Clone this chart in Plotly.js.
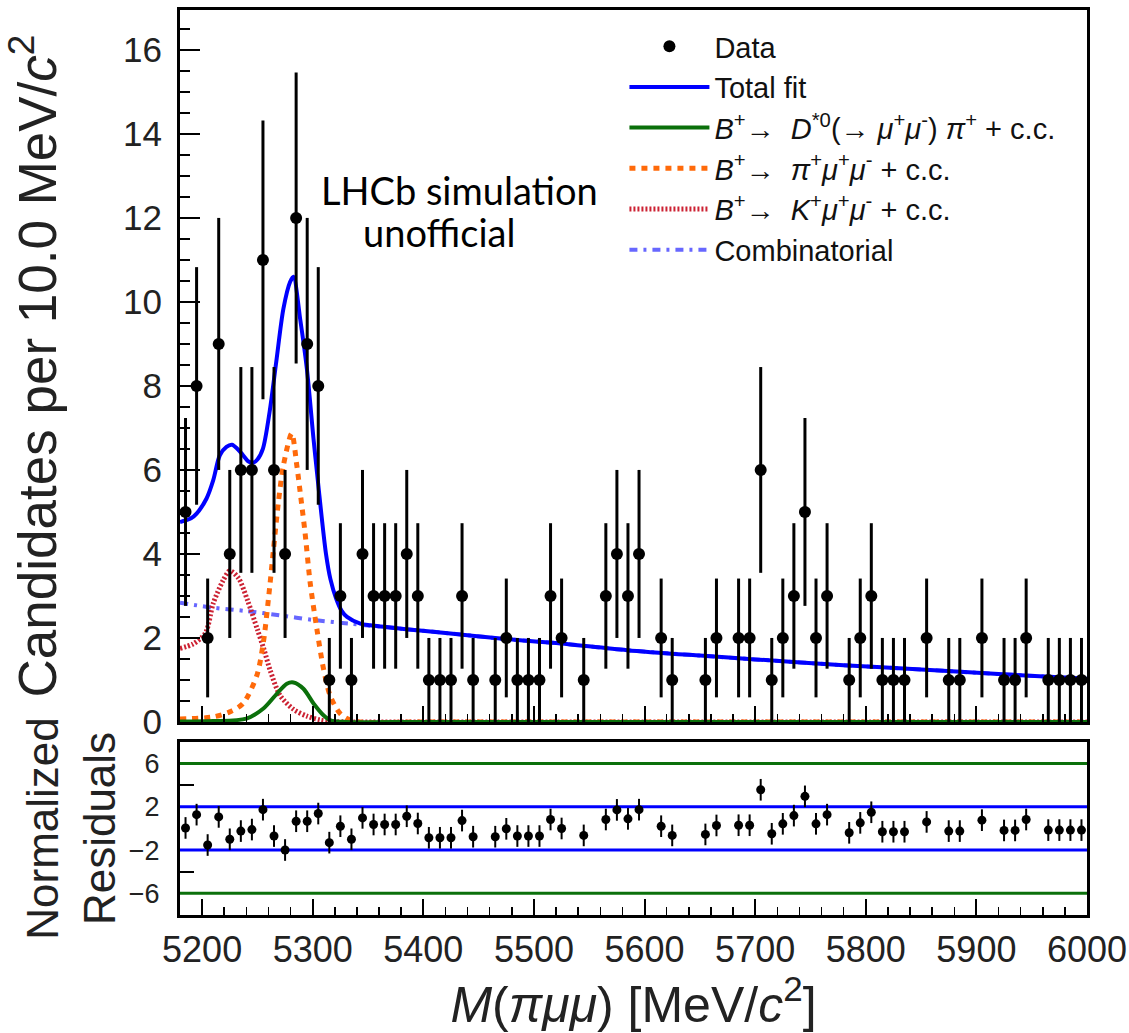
<!DOCTYPE html>
<html>
<head>
<meta charset="utf-8">
<script src="https://cdn.plot.ly/plotly-3.0.1.min.js"></script>
<style>html,body{margin:0;padding:0;background:#fff;}#chart{width:1129px;height:1033px;}</style>
</head>
<body>
<div id="chart"></div>
<script>
// ---- Data ----
const binCenters = [5185,5195,5205,5215,5225,5235,5245,5255,5265,5275,5285,5295,5305,5315,5325,5335,5345,5355,5365,5375,5385,5395,5405,5415,5425,5435,5445,5465,5475,5485,5495,5505,5515,5525,5545,5565,5575,5585,5595,5615,5625,5655,5665,5685,5695,5705,5715,5725,5735,5745,5755,5765,5785,5795,5805,5815,5825,5835,5855,5875,5885,5905,5925,5935,5945,5965,5975,5985,5995];
const counts     = [5,8,2,9,4,6,6,11,6,4,12,9,8,1,3,1,4,3,3,3,4,3,1,1,1,3,1,1,2,1,1,1,3,2,1,3,4,3,4,2,1,1,2,2,2,6,1,2,3,5,2,3,1,2,3,1,1,1,2,1,1,2,1,1,2,1,1,1,1];
const residuals  = [0.05,1.28,-1.53,1.07,-1.0,-0.24,-0.1,1.74,-0.7,-1.99,0.67,0.67,1.38,-1.31,0.21,-1.0,0.98,0.37,0.37,0.37,1.13,0.46,-0.86,-0.86,-0.86,0.73,-0.76,-0.76,-0.03,-0.7,-0.7,-0.7,0.83,0.0,-0.64,0.83,1.72,0.89,1.74,0.21,-0.64,-0.55,0.28,0.3,0.3,3.58,-0.49,0.43,1.19,2.97,0.43,1.28,-0.4,0.52,1.5,-0.3,-0.3,-0.3,0.61,-0.24,-0.24,0.77,-0.18,-0.18,0.83,-0.15,-0.15,-0.15,-0.15];

const totalX = [5180,5190,5195,5204,5210,5216,5222,5227,5232,5237,5242,5246,5250,5255,5261,5267,5273.5,5279.6,5282.6,5288.6,5294.7,5300.7,5304,5308,5312,5316,5321,5326,5331,5343,5352,5380,5420,5472,5520,5584,5650,5700,5780,5850,5920,6000];
const totalY = [4.76,4.85,4.96,5.32,5.75,6.35,6.55,6.6,6.5,6.35,6.2,6.17,6.25,6.51,7.38,8.57,9.84,10.48,10.6,9.6,8.41,6.74,5.9,4.9,4.0,3.4,2.95,2.65,2.5,2.34,2.3,2.22,2.12,1.98,1.88,1.71,1.58,1.49,1.35,1.25,1.14,1.03];

const dstarX = [5180,5210,5240,5255.4,5267.5,5276.6,5282.6,5291.6,5300.7,5309.7,5316,5330,5400,5600,5800,6000];
const dstarY = [0.01,0.02,0.08,0.32,0.67,0.91,0.94,0.79,0.44,0.16,0.04,0.0,0.0,0.0,0.0,0.0];

const pimumuX = [5180,5210,5225,5237,5249.5,5255.4,5260,5264.6,5269,5273.5,5281,5285.6,5288.6,5293,5297.6,5303.7,5309.7,5315.7,5324.8,5337,5400,5600,5800,6000];
const pimumuY = [0.07,0.12,0.24,0.44,1.11,1.9,2.94,4.13,5.24,6.11,6.87,6.11,5.48,4.52,3.33,2.22,1.27,0.63,0.2,0.02,0.0,0.0,0.0,0.0];

const kmumuX = [5180,5192,5203,5210,5219,5225,5233,5241,5250,5256,5261.5,5270.5,5282.6,5294.7,5306.7,5320,5400,5600,5800,6000];
const kmumuY = [1.75,1.86,2.12,2.82,3.37,3.6,3.42,2.9,2.2,1.72,1.23,0.63,0.3,0.14,0.05,0.01,0.0,0.0,0.0,0.0];

const combX = [5180,5210,5240,5270,5300,5334,5380,5420,5472,5520,5584,5650,5700,5780,5850,5920,6000];
const combY = [2.84,2.72,2.64,2.54,2.43,2.34,2.22,2.12,1.98,1.88,1.71,1.58,1.49,1.35,1.25,1.14,1.03];

const residualBlueLevels = [2, -2];
const residualGreenLevels = [6, -6];
const xRange = [5180, 6000];
const xTicks = [5200,5300,5400,5500,5600,5700,5800,5900,6000];

const labels = {
  data: 'Data',
  total: 'Total fit',
  dstar: '<i>B</i><sup>+</sup>\u2192  <i>D</i><sup>*0</sup>(\u2192 <i>\u03bc</i><sup>+</sup><i>\u03bc</i><sup>-</sup>) <i>\u03c0</i><sup>+</sup> + c.c.',
  pimumu: '<i>B</i><sup>+</sup>\u2192  <i>\u03c0</i><sup>+</sup><i>\u03bc</i><sup>+</sup><i>\u03bc</i><sup>-</sup> + c.c.',
  kmumu: '<i>B</i><sup>+</sup>\u2192  <i>K</i><sup>+</sup><i>\u03bc</i><sup>+</sup><i>\u03bc</i><sup>-</sup> + c.c.',
  comb: 'Combinatorial'
};

const FONT = 'Liberation Sans, Arial, Helvetica, sans-serif';
const errs = counts.map(Math.sqrt);

const traces = [];
traces.push({x: combX, y: combY, xaxis:'x', yaxis:'y', mode:'lines', name: labels.comb, legendrank: 6,
  line:{color:'#6767ff', width:4, dash:'8px,6px,3px,6px', shape:'spline', smoothing:0.8}});
traces.push({x: kmumuX, y: kmumuY, xaxis:'x', yaxis:'y', mode:'lines', name: labels.kmumu, legendrank: 5,
  line:{color:'#cc2233', width:5, dash:'2px,2px', shape:'spline', smoothing:0.8}});
traces.push({x: pimumuX, y: pimumuY, xaxis:'x', yaxis:'y', mode:'lines', name: labels.pimumu, legendrank: 4,
  line:{color:'#ff6a0a', width:5, dash:'6px,6px', shape:'spline', smoothing:0.8}});
traces.push({x: dstarX, y: dstarY, xaxis:'x', yaxis:'y', mode:'lines', name: labels.dstar, legendrank: 3,
  line:{color:'#0b700b', width:4, shape:'spline', smoothing:0.8}});
traces.push({x: totalX, y: totalY, xaxis:'x', yaxis:'y', mode:'lines', name: labels.total, legendrank: 2,
  line:{color:'#0000ff', width:4, shape:'spline', smoothing:0.8}});
traces.push({x: binCenters, y: counts, xaxis:'x', yaxis:'y', mode:'markers', name: labels.data, legendrank: 1,
  marker:{color:'#000', size:12},
  error_y:{type:'data', array: errs, visible:true, color:'#000', thickness:3, width:0}});

// residual panel
residualGreenLevels.forEach(v => traces.push({x: xRange, y:[v, v], xaxis:'x2', yaxis:'y2', mode:'lines', showlegend:false,
  line:{color:'#0b700b', width:3}}));
residualBlueLevels.forEach(v => traces.push({x: xRange, y:[v, v], xaxis:'x2', yaxis:'y2', mode:'lines', showlegend:false,
  line:{color:'#0000ff', width:3}}));
traces.push({x: binCenters, y: residuals, xaxis:'x2', yaxis:'y2', mode:'markers', showlegend:false,
  marker:{color:'#000', size:9},
  error_y:{type:'constant', value:1, visible:true, color:'#000', thickness:2, width:0}});

const axisCommon = {
  showline:true, mirror:true, linecolor:'#000', linewidth:3, showgrid:false, zeroline:false,
  ticks:'inside', tickcolor:'#000'
};

const layout = {
  width:1129, height:1033,
  margin:{l:180, r:42, t:10, b:118},
  paper_bgcolor:'#fff', plot_bgcolor:'#fff',
  font:{family:FONT, color:'#000'},
  showlegend:true,
  legend:{x:0.49, y:0.988, xanchor:'left', yanchor:'top', bgcolor:'rgba(0,0,0,0)', borderwidth:0,
    font:{family:FONT, size:29, color:'#111'}, itemwidth:80, tracegroupgap:0},
  xaxis: Object.assign({}, axisCommon, {anchor:'y', domain:[0,1], range:xRange, showticklabels:false,
    tickmode:'array', tickvals:xTicks, ticklen:16, tickwidth:2,
    minor:{dtick:20, tick0:5180, ticks:'inside', ticklen:8, tickwidth:1.5, tickcolor:'#000'}}),
  yaxis: Object.assign({}, axisCommon, {anchor:'x', domain:[0.2133,1], range:[0,16.95], dtick:2, tick0:0,
    ticklen:20, tickwidth:2, minor:{dtick:0.5, ticks:'inside', ticklen:10, tickwidth:1.5, tickcolor:'#000'},
    tickfont:{family:FONT, size:35, color:'#222'}, ticklabelstandoff:8,
    title:{text:'Candidates per 10.0 MeV/<i>c</i><sup>2</sup>', font:{family:FONT, size:53, color:'#222'}, standoff:58}}),
  xaxis2: Object.assign({}, axisCommon, {anchor:'y2', domain:[0,1], range:xRange, matches:'x',
    tickmode:'array', tickvals:xTicks, ticklen:16, tickwidth:2,
    minor:{dtick:20, tick0:5180, ticks:'inside', ticklen:8, tickwidth:1.5, tickcolor:'#000'},
    tickfont:{family:FONT, size:36, color:'#222'}, ticklabelstandoff:1,
    title:{text:'<i>M</i>(<i>\u03c0\u03bc\u03bc</i>) [MeV/<i>c</i><sup>2</sup>]', font:{family:FONT, size:50, color:'#222'}, standoff:8}}),
  yaxis2: Object.assign({}, axisCommon, {anchor:'x2', domain:[0,0.1912], range:[-8,8],
    tickmode:'array', tickvals:[-6,-2,2,6], ticklen:0,
    minor:{tickmode:'array', tickvals:[-4,4], ticks:'inside', ticklen:14, tickwidth:2, tickcolor:'#000'},
    tickfont:{family:FONT, size:27, color:'#222'}, ticklabelstandoff:12,
    title:{text:'Normalized<br>Residuals', font:{family:FONT, size:44, color:'#222'}, standoff:0}}),
  annotations:[
    {xref:'paper', yref:'paper', x:0.3087, y:0.801, text:'LHCb simulation', showarrow:false,
      font:{family:'Lato, Noto Sans, sans-serif', size:38, color:'#000'}, xanchor:'center', yanchor:'middle'},
    {xref:'paper', yref:'paper', x:0.2856, y:0.755, text:'unofficial', showarrow:false,
      font:{family:'Lato, Noto Sans, sans-serif', size:38, color:'#000'}, xanchor:'center', yanchor:'middle'}
  ]
};

Plotly.newPlot('chart', traces, layout, {displayModeBar:false, staticPlot:true});
</script>
</body>
</html>
